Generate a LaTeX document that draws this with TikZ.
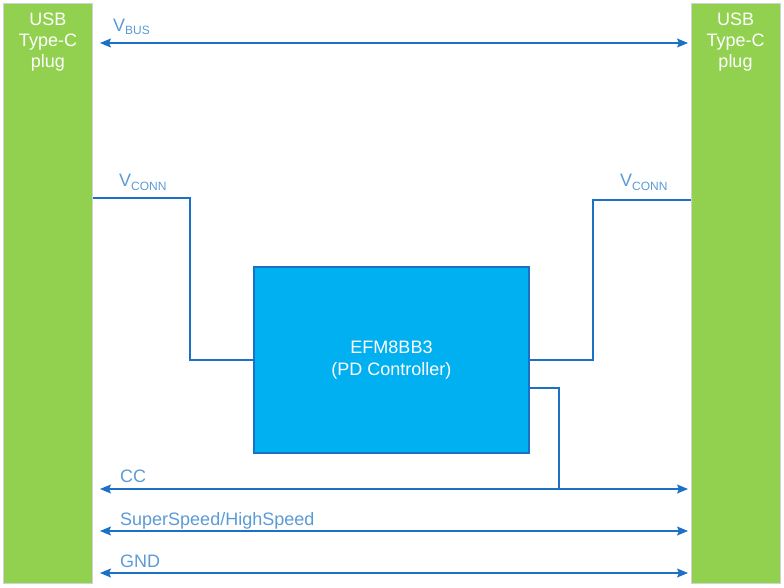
\documentclass[tikz,border=0pt]{standalone}
\usepackage{fontspec}
\setmainfont{Liberation Sans}
\usetikzlibrary{arrows.meta,positioning}
\definecolor{plugGreen}{HTML}{92D050}
\definecolor{chipBlue}{HTML}{00B0F0}
\definecolor{wireBlue}{HTML}{1C70C6}
\definecolor{textBlue}{HTML}{5B9BD5}
\newcommand{\vsub}[1]{V\raisebox{-3pt}{\fontsize{12}{12}\selectfont #1}}
\tikzset{
  plug/.style     = {shape=rectangle, draw=gray!35, fill=plugGreen,
                     minimum width=89pt, minimum height=580pt, inner sep=0pt},
  plugtext/.style = {align=center, text=white, inner sep=0pt,
                     font=\fontsize{18}{21}\selectfont},
  chip/.style     = {shape=rectangle, draw=wireBlue, line width=1.2pt,
                     fill=chipBlue, align=center, text=white,
                     minimum width=275pt, minimum height=186pt,
                     font=\fontsize{18}{22}\selectfont},
  wire/.style     = {draw=wireBlue, line width=1.3pt},
  bus/.style      = {wire, {Stealth[length=11pt,width=9pt,inset=2pt]}-{Stealth[length=11pt,width=9pt,inset=2pt]}},
  sig/.style      = {text=textBlue, anchor=base west, inner sep=0pt,
                     font=\fontsize{18}{21}\selectfont}
}

\begin{document}
\begin{tikzpicture}[x=1pt,y=-1pt]
\useasboundingbox (0,0) rectangle (784,588);
% plugs
\node [plug] (lplug) at (48,293) {};
\node [plug] (rplug) at (735.5,293) {};
\node [plugtext, anchor=north] (ltext) at ([yshift=-10pt]lplug.north) {USB\\Type-C\\plug};
\node [plugtext, anchor=north] (rtext) at ([yshift=-10pt]rplug.north) {USB\\Type-C\\plug};
% controller
\node [chip] (pd) at (391.5,360) {EFM8BB3\\ (PD Controller)};
% bus end points
\foreach \bus/\y in {vbus/43, cc/489, ss/531, gnd/573}{
  \coordinate (\bus L) at (100,\y);
  \coordinate (\bus R) at (688,\y);
}
\coordinate (vconnl) at (190,198);
\coordinate (vconnr) at (593,200);
\coordinate (cctap) at (559,489);
% connectors
\draw [bus] (vbusL) -- (vbusR);
\draw [bus] (ccL) -- (ccR);
\draw [bus] (ssL) -- (ssR);
\draw [bus] (gndL) -- (gndR);
\draw [wire] (pd.west) -| (vconnl) -- (vconnl -| lplug.east);
\draw [wire] (pd.east) -| (vconnr) -- (vconnr -| rplug.west);
\draw [wire] ([yshift=-28pt]pd.east) -| (cctap);
% labels
\node [sig] (vbuslabel) at (113,32) {\vsub{BUS}};
\node [sig] (vconnllabel) at (119,187) {\vsub{CONN}};
\node [sig] (vconnrlabel) at (620,187) {\vsub{CONN}};
\node [sig] (cclabel) at (120,482) {CC};
\node [sig] (sslabel) at (120,525) {SuperSpeed/HighSpeed};
\node [sig] (gndlabel) at (120,567) {GND};
\end{tikzpicture}
\end{document}
